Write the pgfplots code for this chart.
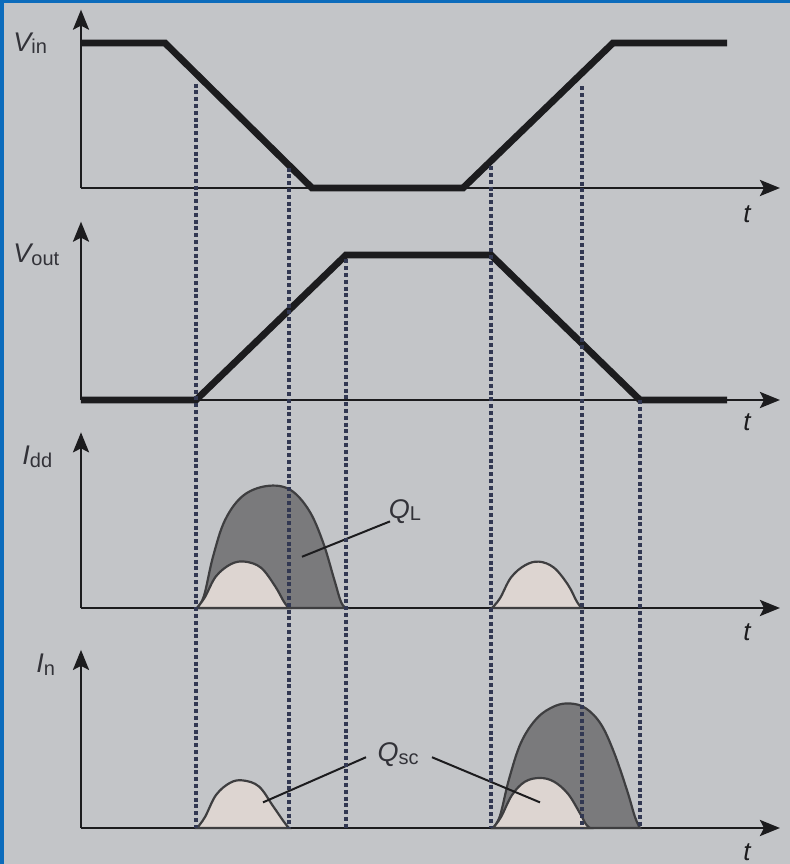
\documentclass[border=0pt]{standalone}
\usepackage{pgfplots}
\pgfplotsset{compat=1.18}
\usepackage{fontspec}
\setmainfont{Liberation Sans}
\usetikzlibrary{arrows.meta}

\definecolor{paper}{RGB}{195,197,200}
\definecolor{frame}{RGB}{12,108,188}
\definecolor{ink}{RGB}{28,28,30}
\definecolor{labelink}{RGB}{50,50,56}
\definecolor{qload}{RGB}{122,122,124}
\definecolor{qsc}{RGB}{221,213,209}
\definecolor{guide}{RGB}{50,56,82}

\newcommand{\sig}[2]{{\fontsize{13.5}{13.5}\selectfont\itshape #1}\raisebox{-1.2pt}{\fontsize{10}{10}\selectfont #2}}
\newcommand{\tlab}{{\fontsize{13}{13}\selectfont\itshape t}}

\tikzset{
  siglabel/.style={anchor=west, text=labelink, inner sep=0pt},
  wave/.style={ink, line width=3.4pt, line join=miter},
  hump/.style={draw=ink!85, line width=1.1pt, smooth, tension=0.6},
}
\pgfplotsset{
  panel/.style={anchor=origin, x=5pt, xmin=0, xmax=69.9, ymin=0,
    axis lines=left, ticks=none, clip=false,
    axis line style={ink, line width=1.4pt, -{Stealth[length=10pt,width=8pt,inset=2pt]}}},
  volt/.style={panel, y=72.5pt},
  curr/.style={panel, y=61pt},
}

\begin{document}
\begin{tikzpicture}
\useasboundingbox (0,0) rectangle (395pt,432pt);
\fill[frame] (0,0) rectangle (395pt,432pt);
\fill[paper] (2.2pt,0) rectangle (395pt,430.5pt);

% input voltage
\begin{axis}[volt, at={(40.5pt,338pt)}, ymax=1.23]
  \addplot[wave] coordinates {(0,1) (8.4,1) (23.1,0) (38.2,0) (53.2,1) (64.6,1)};
  \node[siglabel] at (axis cs:-6.8,1.0) {\sig{V}{in}};
  \node[text=ink] at (axis cs:66.6,-0.18) {\tlab};
  \coordinate (g1) at (axis cs:11.5,0.72);
  \coordinate (g2) at (axis cs:20.8,0.14);
  \coordinate (g4) at (axis cs:41.0,0.15);
  \coordinate (g5) at (axis cs:50.1,0.70);
\end{axis}

% output voltage
\begin{axis}[volt, at={(40.5pt,232pt)}, ymax=1.23]
  \addplot[wave] coordinates {(0,0) (11.5,0) (26.5,1) (41,1) (55.9,0) (64.6,0)};
  \node[siglabel] at (axis cs:-6.8,1.0) {\sig{V}{out}};
  \node[text=ink] at (axis cs:66.6,-0.15) {\tlab};
  \coordinate (g3) at (axis cs:26.5,0.97);
  \coordinate (g6) at (axis cs:55.9,0);
\end{axis}

% supply current
\begin{axis}[curr, at={(40.5pt,128pt)}, ymax=1.44]
  \addplot[hump, fill=qload] coordinates {(11.6,0) (12.3,0.1) (13.2,0.42) (14.4,0.72) (16.2,0.92) (18.6,1.0) (20.9,0.97) (22.8,0.80) (24.2,0.54) (25.3,0.24) (26.0,0.05) (26.5,0)} \closedcycle;
  \addplot[hump, fill=qsc] coordinates {(11.6,0) (12.4,0.09) (13.5,0.26) (15.0,0.36) (16.4,0.38) (18.0,0.33) (19.4,0.18) (20.3,0.05) (20.8,0)} \closedcycle;
  \addplot[hump, fill=qsc] coordinates {(41.1,0) (41.9,0.08) (43.0,0.25) (44.4,0.35) (45.8,0.38) (47.3,0.33) (48.7,0.19) (49.6,0.05) (50.1,0)} \closedcycle;
  \draw[ink, line width=1pt] (axis cs:30.9,0.71) -- (axis cs:22.1,0.42);
  \node[text=labelink] at (axis cs:32.4,0.79) {\sig{Q}{L}};
  \node[siglabel] at (axis cs:-5.9,1.24) {\sig{I}{dd}};
  \node[text=ink] at (axis cs:66.6,-0.2) {\tlab};
\end{axis}

% nMOS current
\begin{axis}[curr, at={(40.5pt,18pt)}, ymax=1.46]
  \addplot[hump, fill=qsc] coordinates {(11.6,0) (12.4,0.09) (13.5,0.27) (14.9,0.37) (16.2,0.39) (17.8,0.34) (19.2,0.18) (20.3,0.05) (20.8,0)} \closedcycle;
  \addplot[hump, fill=qload] coordinates {(41.2,0) (41.9,0.1) (42.8,0.40) (44.0,0.70) (45.6,0.90) (47.4,1.0) (49.0,1.02) (50.5,0.98) (52.0,0.85) (53.3,0.62) (54.6,0.31) (55.4,0.09) (55.9,0)} \closedcycle;
  \addplot[hump, fill=qsc] coordinates {(41.2,0) (42.0,0.09) (43.1,0.27) (44.4,0.38) (45.9,0.41) (47.3,0.38) (48.7,0.28) (49.9,0.12) (50.5,0.03) (50.9,0)} \closedcycle;
  \draw[ink, line width=1pt] (axis cs:28.5,0.58) -- (axis cs:18.2,0.21);
  \draw[ink, line width=1pt] (axis cs:35.1,0.58) -- (axis cs:45.9,0.21);
  \node[text=labelink] at (axis cs:31.7,0.6) {\sig{Q}{sc}};
  \node[siglabel] at (axis cs:-4.5,1.34) {\sig{I}{n}};
  \node[text=ink] at (axis cs:66.6,-0.2) {\tlab};
  \coordinate (b1) at (axis cs:11.5,0);
  \coordinate (b2) at (axis cs:20.8,0);
  \coordinate (b3) at (axis cs:26.5,0);
  \coordinate (b4) at (axis cs:41.0,0);
  \coordinate (b5) at (axis cs:50.1,0);
  \coordinate (b6) at (axis cs:55.9,0);
\end{axis}

% switching-threshold guides running through all four panels
\foreach \i in {1,...,6}
  \draw[guide, line width=1.7pt, dash pattern=on 2pt off 1.4pt] (g\i) -- (b\i);
\end{tikzpicture}
\end{document}
